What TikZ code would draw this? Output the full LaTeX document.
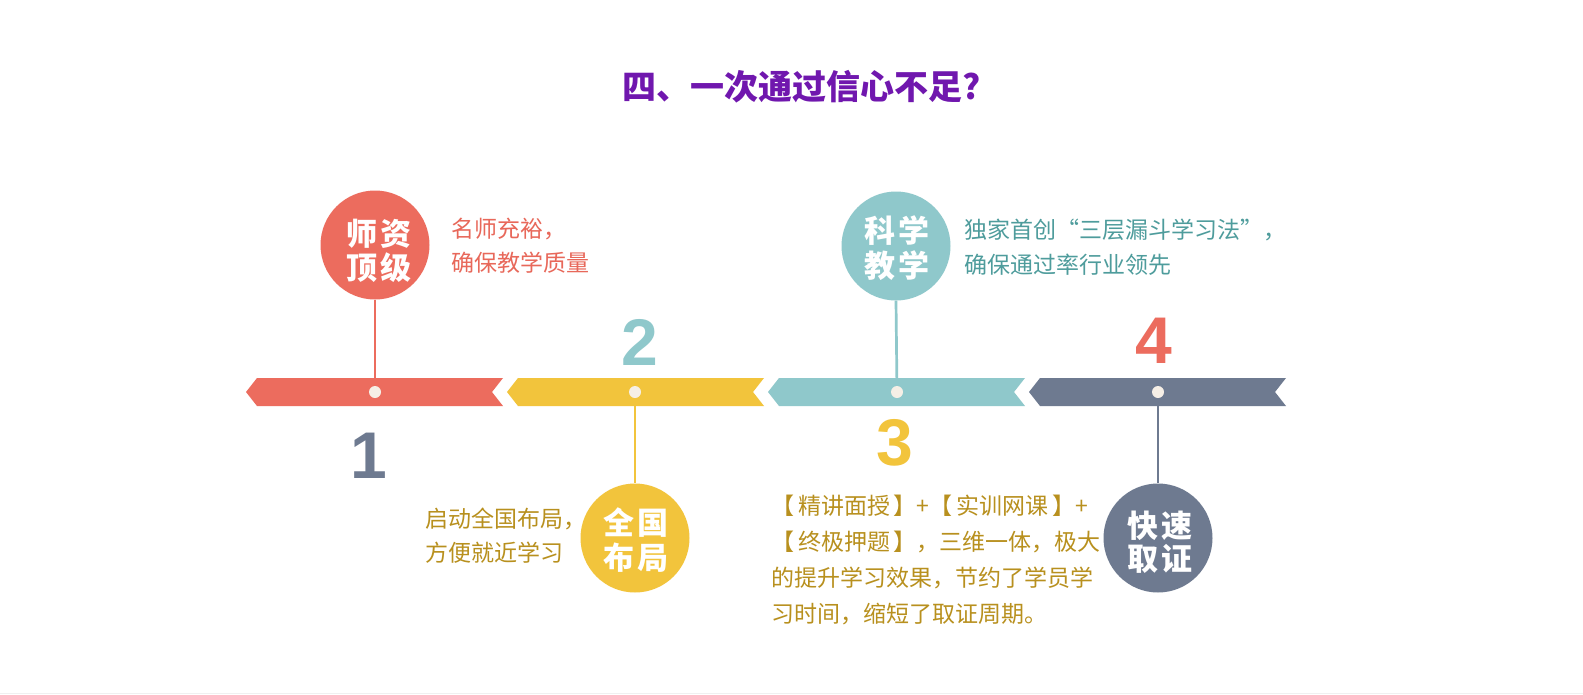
\documentclass[tikz,border=0pt]{standalone}
\usepackage{fontspec}
\newfontfamily\cjk{Noto Sans CJK SC}
\newfontfamily\numf{Liberation Sans}
\definecolor{cred}{HTML}{EC6C5E}
\definecolor{cyel}{HTML}{F2C43C}
\definecolor{cteal}{HTML}{8FC8CB}
\definecolor{cslate}{HTML}{6E7A90}
\definecolor{tred}{HTML}{E8685A}
\definecolor{tgold}{HTML}{B8901E}
\definecolor{tteal}{HTML}{4E9C9C}
\definecolor{cpurple}{HTML}{7017AE}
\definecolor{cdot}{HTML}{F6EFE6}
\newcommand{\fq}[1]{{\addfontfeature{RawFeature=+fwid}#1}}
\begin{document}
\begin{tikzpicture}[x=1pt,y=-1pt,
  bigc/.style={circle,draw=none,minimum size=109pt,inner sep=0pt},
  dotn/.style={circle,fill=cdot,draw=none,minimum size=12pt,inner sep=0pt},
  conn/.style={line width=2.7pt,draw=#1},
  ctext/.style={inner sep=0pt,text=white,font=\cjk\bfseries\fontsize{31}{31}\selectfont},
  desc/.style={inner sep=0pt,anchor=west,text=#1,font=\cjk\fontsize{23}{23}\selectfont},
  numt/.style={inner sep=0pt,text=#1,font=\numf\bfseries\fontsize{66}{66}\selectfont},
  titlet/.style={inner sep=0pt,text=cpurple,font=\cjk\bfseries\fontsize{34}{34}\selectfont}]
\useasboundingbox (0,0) rectangle (1583,694);
\fill[white] (0,0) rectangle (1583,694);
\fill[black!6] (0,692.5) rectangle (1583,694);

% title
\node[titlet] (title) at (802,87) {四、一次通过信心不足?};

% dots (positions on the bar)
\coordinate (d1) at (375,392);
\coordinate (d2) at (635,392);
\coordinate (d3) at (897,392);
\coordinate (d4) at (1158,392);

% circles
\node[bigc,fill=cred]   (c1) at (375,245) {};
\node[bigc,fill=cyel]   (c2) at (635,538) {};
\node[bigc,fill=cteal]  (c3) at (896,246) {};
\node[bigc,fill=cslate] (c4) at (1158,538) {};

% connectors
\draw[conn=cred]   (c1.south) -- (d1);
\draw[conn=cyel]   (d2) -- (c2.north);
\draw[conn=cteal]  (c3.south) -- (d3);
\draw[conn=cslate] (d4) -- (c4.north);

% bar segments
\foreach \x/\col in {246/cred,507/cyel,768/cteal,1029/cslate}{
  \fill[\col] (\x,392) -- (\x+11,378) -- (\x+257,378) -- (\x+246,392)
     -- (\x+257,406) -- (\x+11,406) -- cycle;
}
\node[dotn] (n1) at (d1) {};
\node[dotn] (n2) at (d2) {};
\node[dotn] (n3) at (d3) {};
\node[dotn] (n4) at (d4) {};

% circle labels
\node[ctext] (c1a) at (379,234) {师\hspace{3pt}资};
\node[ctext] (c1b) at (379,268) {顶\hspace{3pt}级};
\node[ctext] (c2a) at (636,523) {全\hspace{3pt}国};
\node[ctext] (c2b) at (636,558) {布\hspace{3pt}局};
\node[ctext] (c3a) at (897,231) {科\hspace{3pt}学};
\node[ctext] (c3b) at (897,266) {教\hspace{3pt}学};
\node[ctext] (c4a) at (1160,526) {快\hspace{3pt}速};
\node[ctext] (c4b) at (1160,559) {取\hspace{3pt}证};

% numbers
\node[numt=cslate] (num1) at (369,456) {1};
\node[numt=cteal]  (num2) at (640,342) {2};
\node[numt=cyel]   (num3) at (895,443) {3};
\node[numt=cred]   (num4) at (1154,341) {4};

% descriptions
\node[desc=tred] (t1a) at (451,229) {名师充裕，};
\node[desc=tred] (t1b) at (451,263) {确保教学质量};
\node[desc=tgold] (t2a) at (425,519) {启动全国布局，};
\node[desc=tgold] (t2b) at (425,553) {方便就近学习};
\node[desc=tteal] (t3a) at (964,230) {独家首创\fq{“}三层漏斗学习法\fq{”}，};
\node[desc=tteal] (t3b) at (964,265) {确保通过率行业领先};
\node[desc=tgold] (t4a) at (771,506) {【\,精讲面授\,】+【\,实训网课\,】+};
\node[desc=tgold] (t4b) at (771,542) {【\,终极押题\,】，三维一体，极大};
\node[desc=tgold] (t4c) at (771,578) {的提升学习效果，节约了学员学};
\node[desc=tgold] (t4d) at (771,614) {习时间，缩短了取证周期。};
\end{tikzpicture}
\end{document}
